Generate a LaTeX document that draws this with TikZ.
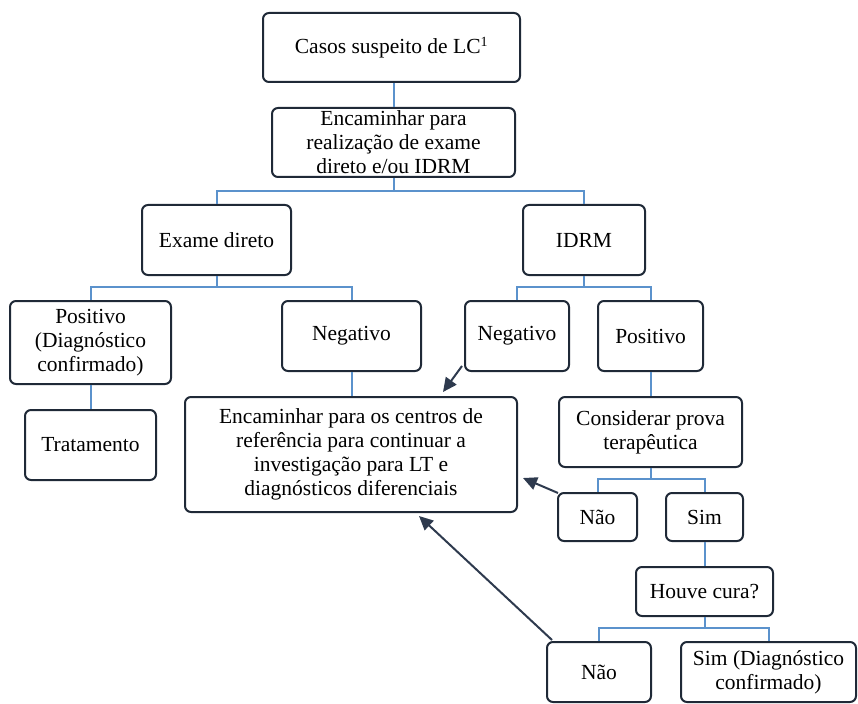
\documentclass[tikz,border=0pt]{standalone}
\usepackage{fontspec}
\setmainfont{Liberation Serif}
\usetikzlibrary{arrows.meta}
\definecolor{boxline}{HTML}{1F2937}
\definecolor{conn}{HTML}{5B92CC}
\definecolor{arr}{HTML}{2E3A4E}
\newcommand\flowbox[6]{\node[box, minimum width={#4-#2}, minimum height={#5-#3}] (#1) at ({(#2+#4)/2},{(#3+#5)/2}) {#6};}
\begin{document}
\begin{tikzpicture}[x=1pt,y=-1pt,
  box/.style={draw=boxline, line width=2pt, rounded corners=6pt, align=center, inner sep=0pt, font=\fontsize{21.5}{24}\selectfont},
  tree/.style={draw=conn, line width=2pt},
  back/.style={draw=arr, line width=2pt, -{Triangle[length=14pt,width=13pt]}}]
\useasboundingbox (0,0) rectangle (858,703);
\flowbox{casos}{263}{13}{520}{82}{Casos suspeito de LC\textsuperscript{\fontsize{14}{14}\selectfont 1}}
\flowbox{enc}{272}{108}{515}{177}{Encaminhar para\\realização de exame\\direto e/ou IDRM}
\flowbox{exame}{142}{205}{291}{275}{Exame direto}
\flowbox{idrm}{523}{205}{645}{275}{IDRM}
\flowbox{pos}{10}{301}{171}{384}{Positivo\\(Diagnóstico\\confirmado)}
\flowbox{negL}{282}{301}{421}{371}{Negativo}
\flowbox{negR}{465}{301}{569}{371}{Negativo}
\flowbox{posR}{598}{301}{703}{371}{Positivo}
\flowbox{trat}{25}{410}{156}{480}{Tratamento}
\flowbox{big}{185}{397}{517}{512}{Encaminhar para os centros de\\referência para continuar a\\investigação para LT e\\diagnósticos diferenciais}
\flowbox{cons}{559}{397}{742}{467}{Considerar prova\\terapêutica}
\flowbox{nao1}{558}{493}{637}{541}{Não}
\flowbox{sim1}{666}{493}{743}{541}{Sim}
\flowbox{houve}{636}{567}{773}{616}{Houve cura?}
\flowbox{nao2}{547}{642}{651}{702}{Não}
\flowbox{sim2}{681}{642}{856}{702}{Sim (Diagnóstico\\confirmado)}
% tree connectors
\coordinate (j1) at (393,191);
\coordinate (j2) at (216,287);
\coordinate (j3) at (584,287);
\coordinate (j4) at (650,479);
\coordinate (j5) at (704,628);
\draw[tree] (enc.north |- casos.south) -- (enc.north);
\draw[tree] (enc.south) -- (enc.south |- j1);
\draw[tree] (exame.north) -- (exame.north |- j1) -- (idrm.north |- j1) -- (idrm.north);
\draw[tree] (exame.south) -- (exame.south |- j2);
\draw[tree] (pos.north) -- (pos.north |- j2) -- (negL.north |- j2) -- (negL.north);
\draw[tree] (pos.south) -- (trat.north);
\draw[tree] (negL.south) -- (negL.south |- big.north);
\draw[tree] (idrm.south) -- (idrm.south |- j3);
\draw[tree] (negR.north) -- (negR.north |- j3) -- (posR.north |- j3) -- (posR.north);
\draw[tree] (posR.south) -- (cons.north);
\draw[tree] (cons.south) -- (cons.south |- j4);
\draw[tree] (nao1.north) -- (nao1.north |- j4) -- (sim1.north |- j4) -- (sim1.north);
\draw[tree] (sim1.south) -- (houve.north);
\draw[tree] (houve.south) -- (houve.south |- j5);
\draw[tree] (nao2.north) -- (nao2.north |- j5) -- (sim2.north |- j5) -- (sim2.north);
% arrows back to the reference box
\coordinate (t1) at (443,392);
\coordinate (t2) at (523,478);
\coordinate (t3) at (419,516);
\draw[back] ([shift={(-2,-6)}]negR.south west) -- (t1);
\draw[back] ([shift={(1,1)}]nao1.north west) -- (t2);
\draw[back] ([shift={(6,-1)}]nao2.north west) -- (t3);
\end{tikzpicture}
\end{document}
